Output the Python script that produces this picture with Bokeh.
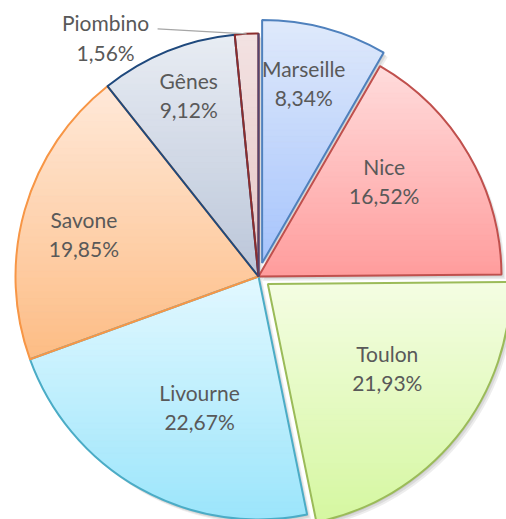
import numpy as np
from bokeh.plotting import figure
from bokeh.models import Range1d
from bokeh.core.properties import value
from bokeh.embed import file_html
from bokeh.resources import INLINE

# ---- data ----
cities = ["Marseille", "Nice", "Toulon", "Livourne", "Savone", "Gênes", "Piombino"]
shares = [8.34, 16.52, 21.93, 22.67, 19.85, 9.12, 1.56]

# ---- style / layout ----
W, H = 506, 519
CX, CY, R = 258.0, 243.0, 243.0
explode = [14, 0, 12, 0, 0, 0, 0]
top_colors = ["#dfe9fb", "#ffdcdc", "#f4fde3", "#e2f8ff", "#ffe9d9", "#e8ecf3", "#f3e2e2"]
bottom_colors = ["#a6c4fc", "#ff9c9c", "#d5f7a0", "#9be5fb", "#fdbc84", "#bbc6d9", "#e4c5c5"]
line_colors = ["#4f81bd", "#c0504d", "#9bbb59", "#4bacc6", "#f79646", "#1f497d", "#8c2d2d"]
lab_frac = [0.76, 0.65, 0.60, 0.59, 0.74, 0.80, None]
lab_shift = [-2, -7, -4, -5, -2, 1, 0]
FONT = "Lato"
TXT = "#595959"

p = figure(width=W, height=H, x_range=Range1d(0, W), y_range=Range1d(0, H),
           output_backend="svg", toolbar_location=None, min_border=0)
p.axis.visible = False
p.grid.visible = False
p.outline_line_color = None
p.background_fill_color = "white"

vals = np.array(shares, dtype=float)
fr = vals / vals.sum()
starts = np.concatenate([[0], np.cumsum(fr)[:-1]]) * 2 * np.pi
ends = np.cumsum(fr) * 2 * np.pi
mids = (starts + ends) / 2


def hex2rgb(h):
    h = h.lstrip("#")
    return np.array([int(h[i:i + 2], 16) for i in (0, 2, 4)], dtype=float)


def rgb2hex(c):
    c = np.clip(np.round(c), 0, 255).astype(int)
    return "#%02x%02x%02x" % tuple(c)


def clip(poly, y0, above):
    out = []
    n = len(poly)
    for i in range(n):
        a = poly[i]
        b = poly[(i + 1) % n]
        ina = (a[1] >= y0) if above else (a[1] <= y0)
        inb = (b[1] >= y0) if above else (b[1] <= y0)
        if ina:
            out.append(a)
        if ina != inb:
            t = (y0 - a[1]) / (b[1] - a[1])
            out.append((a[0] + t * (b[0] - a[0]), y0))
    return out


centers = []
for i in range(len(cities)):
    e = explode[i]
    cx = CX + e * np.sin(mids[i])
    cy = CY + e * np.cos(mids[i])
    centers.append((cx, cy))

# shadows
for (ox, oy, a) in [(1.0, -1.5, 0.08), (2.5, -3.0, 0.08), (4.0, -4.5, 0.07)]:
    p.wedge(x=[c[0] + ox for c in centers], y=[c[1] + oy for c in centers], radius=R,
            start_angle=list(np.pi / 2 - starts), end_angle=list(np.pi / 2 - ends),
            direction="clock", fill_color="black", fill_alpha=a, line_color=None)

# gradient fills
bx, by, bc = [], [], []
for i in range(len(cities)):
    cx, cy = centers[i]
    nstep = max(6, int(np.degrees(ends[i] - starts[i]) / 1.5))
    th = np.linspace(starts[i], ends[i], nstep)
    poly = [(cx, cy)] + [(cx + R * np.sin(t), cy + R * np.cos(t)) for t in th]
    ys = [q[1] for q in poly]
    ymin, ymax = min(ys), max(ys)
    nb = 40
    h = (ymax - ymin) / nb
    ct, cb = hex2rgb(top_colors[i]), hex2rgb(bottom_colors[i])
    for k in range(nb):
        y0 = ymin + k * h
        y1 = y0 + h
        sub = clip(clip(poly, y0 - 0.3, True), y1 + 0.3, False)
        if len(sub) < 3:
            continue
        t = (k + 0.5) / nb
        col = rgb2hex(cb + (ct - cb) * t)
        bx.append([q[0] for q in sub])
        by.append([q[1] for q in sub])
        bc.append(col)
p.patches(xs=bx, ys=by, fill_color=bc, line_color=bc, line_width=0.5)

# outlines
p.wedge(x=[c[0] for c in centers], y=[c[1] for c in centers], radius=R,
        start_angle=list(np.pi / 2 - starts), end_angle=list(np.pi / 2 - ends),
        direction="clock", fill_alpha=0, line_color=line_colors, line_width=2)

# dark edge at 12 o'clock (left of Marseille)
p.ray(x=[CX], y=[CY], length=R, angle=[np.pi / 2], line_color="#54446e", line_width=2)

# labels
tx, ty, tt = [], [], []
for i in range(len(cities)):
    lbl = f"{shares[i]:.2f}".replace(".", ",") + "%"
    if lab_frac[i] is None:
        continue
    cx, cy = centers[i]
    a = mids[i] + np.radians(lab_shift[i])
    lx = cx + lab_frac[i] * R * np.sin(a)
    ly = cy + lab_frac[i] * R * np.cos(a)
    tx += [lx, lx]
    ty += [ly + 14.5, ly - 14.5]
    tt += [cities[i], lbl]

# Piombino outside label with leader line
i = 6
ox = CX + R * np.sin(mids[i])
oy = CY + R * np.cos(mids[i])
p.line(x=[ox - 89, ox], y=[oy + 5, oy], line_color="#a6a6a6", line_width=1.2)
plx, ply = ox - 141, oy - 4
tx += [plx, plx]
ty += [ply + 15, ply - 15]
tt += [cities[i], f"{shares[i]:.2f}".replace(".", ",") + "%"]

p.text(x=tx, y=ty, text=tt, text_align="center", text_baseline="middle",
       text_font=value(FONT), text_font_size="21px", text_color=TXT)

open("out.html", "w").write(file_html(p, INLINE))
